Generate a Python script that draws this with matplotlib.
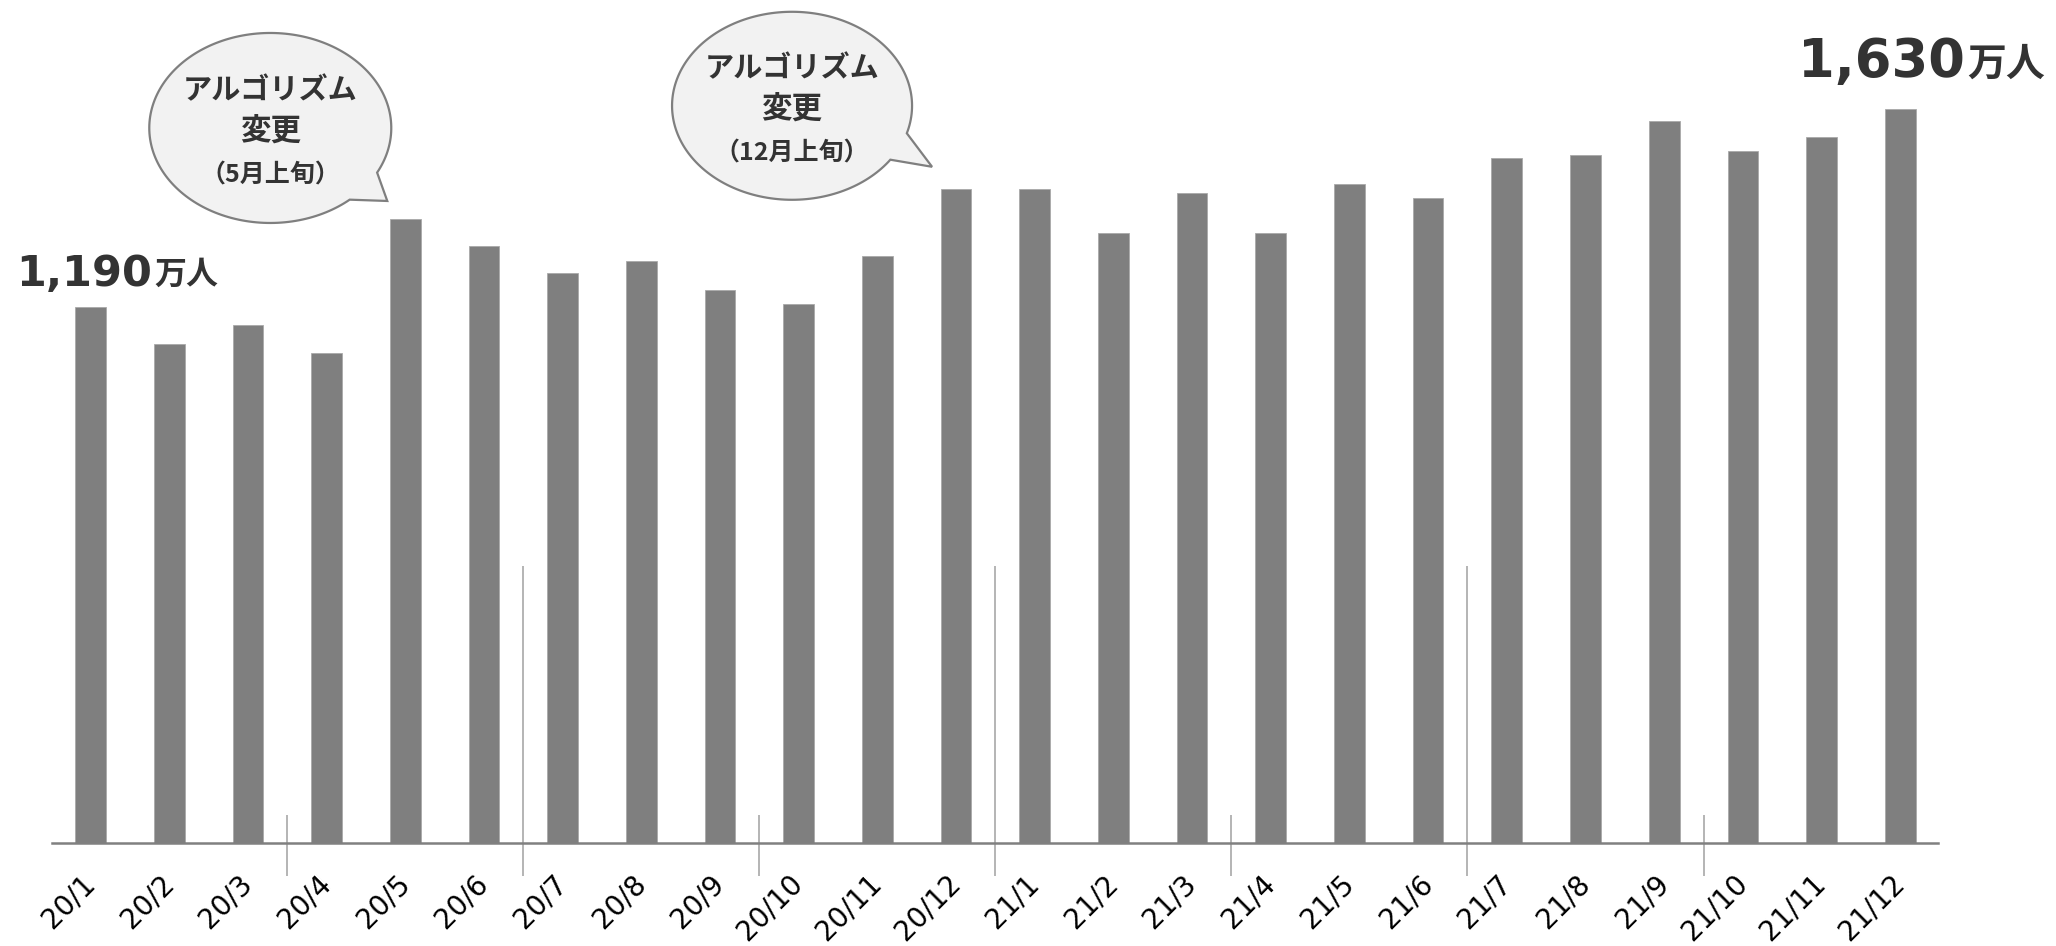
import matplotlib
matplotlib.use('Agg')
import matplotlib.pyplot as plt
from matplotlib.path import Path
from matplotlib.patches import PathPatch
import numpy as np

# ---- data ----
months = ['20/1', '20/2', '20/3', '20/4', '20/5', '20/6', '20/7', '20/8', '20/9', '20/10', '20/11', '20/12',
          '21/1', '21/2', '21/3', '21/4', '21/5', '21/6', '21/7', '21/8', '21/9', '21/10', '21/11', '21/12']
users = [1190, 1108, 1149, 1088, 1385, 1324, 1265, 1292, 1228, 1196, 1303, 1452,
         1452, 1353, 1443, 1353, 1463, 1431, 1521, 1527, 1603, 1536, 1568, 1630]
end_label_idx = [0, 23]
end_label_num = ['1,190', '1,630']
end_label_unit = '万人'
callout_idx = [4, 11]
callout_title = ['アルゴリズム', 'アルゴリズム']
callout_sub = ['変更', '変更']
callout_when = ['（5月上旬）', '（12月上旬）']
half_year_bounds = [5.5, 11.5, 17.5]
quarter_bounds = [2.5, 8.5, 14.5, 20.5]

# ---- style / layout ----
W, H = 2056, 946
JP = ['Noto Sans CJK JP', 'DejaVu Sans']
fig = plt.figure(figsize=(W / 100, H / 100), dpi=100)
ax = fig.add_axes([52 / W, (H - 843) / H, (1938 - 52) / W, 843 / H])
ax.set_xlim(-0.49, 23.48)
ax.set_ylim(0, 1871)

x = np.arange(len(users))
ax.bar(x, users, width=0.39, color='#7f7f7f', edgecolor='#a9a9a9', linewidth=0.6, zorder=2)

for s in ['top', 'right', 'left']:
    ax.spines[s].set_visible(False)
ax.spines['bottom'].set_color('#808080')
ax.spines['bottom'].set_linewidth(1.8)
ax.set_yticks([])
ax.set_xticks(x, months, rotation=45, ha='right', va='center', rotation_mode='anchor',
              fontsize=20, color='#000000', family='DejaVu Sans')
ax.tick_params(axis='x', length=0, pad=26)

# separators
ax.vlines(half_year_bounds, -73, 615, colors='#a0a0a0', linewidth=1.1, clip_on=False, zorder=1)
ax.vlines(quarter_bounds, -73, 62, colors='#a0a0a0', linewidth=1.1, clip_on=False, zorder=1)

# end labels
offs = [(-74, 21, 31, 23), (-102, 32, 38, 28)]
for k, i in enumerate(end_label_idx):
    dx, dy, fs, fs2 = offs[k]
    t = ax.annotate(end_label_num[k], xy=(i, users[i]), xytext=(dx, dy), textcoords='offset pixels',
                    ha='left', va='baseline', fontsize=fs, fontweight='bold', color='#333333',
                    family='DejaVu Sans', annotation_clip=False)
    ax.annotate(end_label_unit, xy=(1, 0), xycoords=t, xytext=(2, 4), textcoords='offset pixels',
                ha='left', va='bottom', fontsize=fs2, fontweight='bold', color='#333333', family=JP)

# callouts
c_geom = [
    dict(tip=(-18, -18), ctr=(-117, -73), a=121, b=95, t1=28, t2=49),
    dict(tip=(-24, -22), ctr=(-140, -61), a=120, b=94, t1=17, t2=35),
]
for k, i in enumerate(callout_idx):
    g = c_geom[k]
    X, Y = ax.transData.transform((i, users[i]))
    ax_px, ay_px = X, H - Y
    tipx, tipy = ax_px + g['tip'][0], ay_px + g['tip'][1]
    cx, cy = tipx + g['ctr'][0], tipy + g['ctr'][1]
    ts = np.radians(np.linspace(g['t2'], g['t1'] + 360, 200))
    px = cx + g['a'] * np.cos(ts)
    py = cy + g['b'] * np.sin(ts)
    verts = list(zip(px, py)) + [(tipx, tipy), (px[0], py[0])]
    verts = [(vx / W, (H - vy) / H) for vx, vy in verts]
    codes = [Path.MOVETO] + [Path.LINETO] * (len(verts) - 2) + [Path.CLOSEPOLY]
    patch = PathPatch(Path(verts, codes), facecolor='#f2f2f2', edgecolor='#7f7f7f',
                      linewidth=1.6, transform=fig.transFigure, zorder=5)
    fig.add_artist(patch)
    for txt, off, fs in [(callout_title[k], -38, 21), (callout_sub[k], 4, 22), (callout_when[k], 48, 18)]:
        fig.text(cx / W, (H - (cy + off)) / H, txt, ha='center', va='center', fontsize=fs,
                 fontweight='bold', color='#333333', family=JP, zorder=6)

fig.savefig('out.png', dpi=100)
